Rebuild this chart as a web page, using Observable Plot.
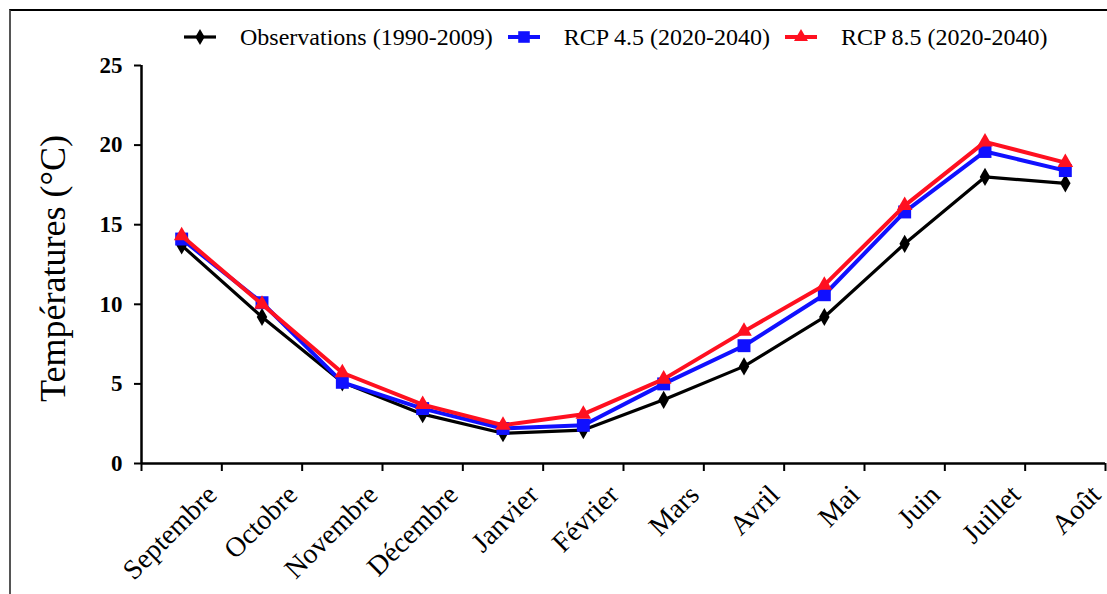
<!DOCTYPE html>
<html>
<head>
<meta charset="utf-8">
<script src="https://cdn.jsdelivr.net/npm/d3@7"></script>
<script src="https://cdn.jsdelivr.net/npm/@observablehq/plot@0.6"></script>
<style>
  html, body { margin: 0; padding: 0; background: #fff; width: 1107px; height: 594px; overflow: hidden; }
  #wrap { position: relative; width: 1107px; height: 594px; font-family: "Liberation Serif", "Times New Roman", serif; }
  #frame { position: absolute; left: 9px; top: 9px; width: 1200px; height: 700px; border-left: 2px solid #555; border-top: 2px solid #000; pointer-events: none; }
  #legend { height: 48px; box-sizing: border-box; padding-top: 26px; padding-left: 184px; display: flex; align-items: center; font-size: 24px; color: #000; }
  .sym { width: 32px; height: 20px; margin-right: 24px; display: block; }
  .lab { margin-right: 15px; white-space: nowrap; line-height: 22px; }
  svg text { font-family: "Liberation Serif", "Times New Roman", serif; }
</style>
</head>
<body>
<div id="wrap">
  <div id="legend"></div>
  <div id="chart"></div>
  <div id="frame"></div>
</div>
<script>
// ---- data ----
const months = ["Septembre", "Octobre", "Novembre", "Décembre", "Janvier", "Février", "Mars", "Avril", "Mai", "Juin", "Juillet", "Août"];
const observations = [13.7, 9.2, 5.1, 3.1, 1.9, 2.1, 4.0, 6.1, 9.2, 13.8, 18.0, 17.6];
const rcp45 = [14.1, 10.1, 5.1, 3.45, 2.2, 2.4, 5.0, 7.4, 10.6, 15.8, 19.6, 18.4];
const rcp85 = [14.3, 10.0, 5.7, 3.7, 2.4, 3.1, 5.3, 8.3, 11.2, 16.2, 20.2, 18.9];
const seriesNames = ["Observations (1990-2009)", "RCP 4.5 (2020-2040)", "RCP 8.5 (2020-2040)"];
const seriesColors = ["#000000", "#1010ff", "#ff1020"];
const seriesSymbols = ["diamond", "square", "triangle"];
const yTicks = [0, 5, 10, 15, 20, 25];
const yLabel = "Températures (°C)";

// ---- table built from the arrays ----
const seriesValues = [observations, rcp45, rcp85];
const rows = seriesValues.map((vals, s) => vals.map((v, i) => ({series: seriesNames[s], i: i + 0.5, value: v})));

// ---- styles ----
const lineWidths = [3.2, 4, 4];
const dotR = [5.5, 7.3, 5.8];

// ---- legend ----
const legend = document.getElementById("legend");
seriesNames.forEach((name, s) => {
  const svg = d3.create("svg").attr("class", "sym").attr("viewBox", "0 0 32 20");
  svg.append("line").attr("x1", 0).attr("x2", 32).attr("y1", 10).attr("y2", 10)
    .attr("stroke", seriesColors[s]).attr("stroke-width", lineWidths[s]);
  const sym = {diamond: d3.symbolDiamond, square: d3.symbolSquare, triangle: d3.symbolTriangle}[seriesSymbols[s]];
  svg.append("path").attr("transform", "translate(16,10)")
    .attr("d", d3.symbol(sym, Math.PI * dotR[s] * dotR[s] * 0.8)())
    .attr("fill", seriesColors[s]);
  legend.appendChild(svg.node());
  const span = document.createElement("span");
  span.className = "lab";
  span.textContent = name;
  legend.appendChild(span);
});

// ---- chart ----
const seriesMarks = rows.flatMap((data, s) => [
  Plot.line(data, {x: "i", y: "value", stroke: seriesColors[s], strokeWidth: lineWidths[s], strokeLinejoin: "miter"}),
  Plot.dot(data, {x: "i", y: "value", symbol: seriesSymbols[s], r: dotR[s], fill: seriesColors[s], stroke: "none"})
]);

const chart = Plot.plot({
  width: 1107,
  height: 546,
  marginLeft: 141,
  marginRight: 2,
  marginTop: 17,
  marginBottom: 131,
  x: {type: "linear", domain: [0, months.length]},
  y: {domain: [0, 25]},
  style: {background: "transparent", color: "#000", fontFamily: "Liberation Serif", overflow: "visible"},
  marks: [
    Plot.axisY({ticks: yTicks, tickSize: 7, tickPadding: 12, fontSize: 23, fontWeight: "bold", strokeWidth: 2, label: null}),
    Plot.axisX({ticks: d3.range(months.length + 1), tickSize: 8, tickFormat: () => "", strokeWidth: 2, label: null}),
    Plot.axisX({ticks: months.map((m, i) => i + 0.5), tickSize: 0, tickFormat: d => months[Math.floor(d)],
      tickRotate: -45, textAnchor: "end", lineAnchor: "bottom", tickPadding: 33, dx: 37, fontSize: 28, label: null}),
    Plot.ruleX([0], {strokeWidth: 2.5}),
    Plot.ruleY([0], {strokeWidth: 2.5}),
    Plot.text([yLabel], {frameAnchor: "left", rotate: -90, dx: -88, dy: 4, fontSize: 36, textAnchor: "middle", lineAnchor: "middle", fill: "#000"}),
    ...seriesMarks
  ]
});
document.getElementById("chart").appendChild(chart);
</script>
</body>
</html>
